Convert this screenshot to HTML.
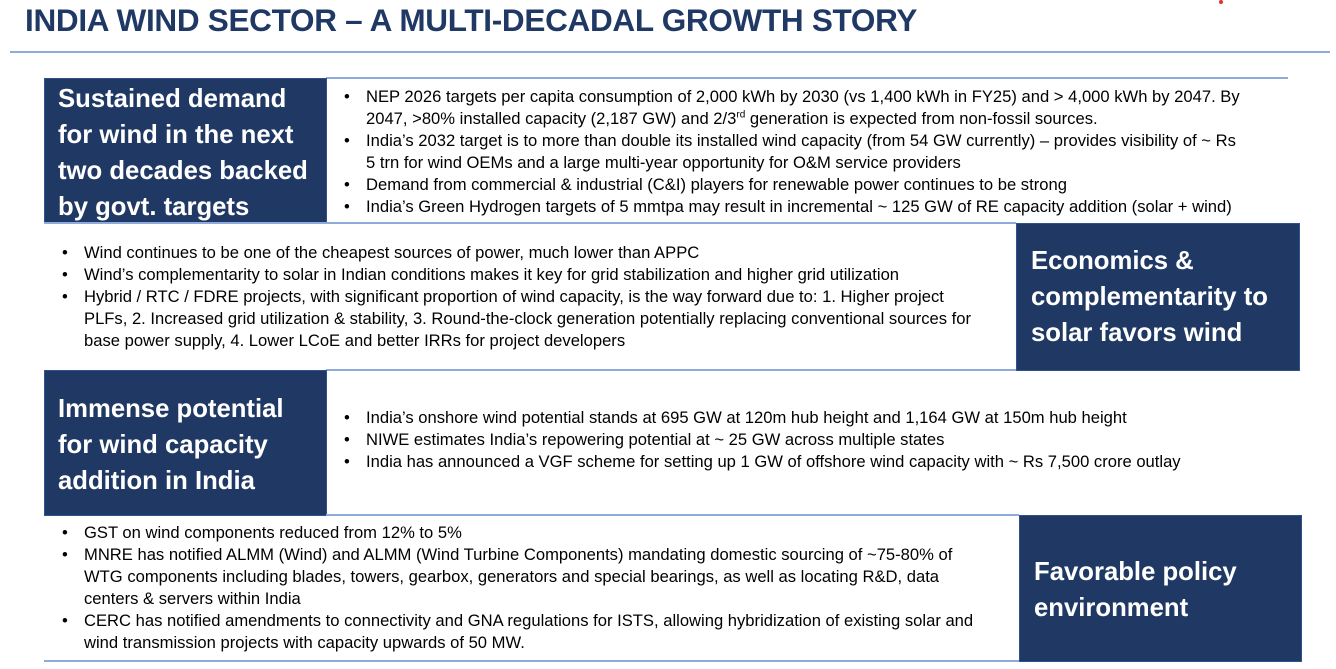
<!DOCTYPE html>
<html><head><meta charset="utf-8">
<style>
body{margin:0;width:1336px;height:669px;background:#fff;position:relative;overflow:hidden;font-family:"Liberation Sans",sans-serif;}
.abs{position:absolute;}
.title{left:25px;top:2px;font-size:31.5px;font-weight:bold;color:#1f3864;white-space:nowrap;letter-spacing:-0.3px;}
.hr{position:absolute;height:2px;background:#8faadc;}
.box{position:absolute;background:#1f3864;border:1px solid #2f528f;color:#fff;font-weight:bold;font-size:25.7px;line-height:36px;box-sizing:border-box;}
.box div{white-space:nowrap;}
.list{position:absolute;font-size:16.6px;line-height:22px;color:#000;white-space:nowrap;}
.li{position:relative;padding-left:22px;}
.li:before{content:"•";position:absolute;left:0;}
</style></head><body>
<div class="title abs">INDIA WIND SECTOR – A MULTI-DECADAL GROWTH STORY</div>
<div class="hr" style="left:10px;top:51px;width:1320px"></div>
<div class="abs" style="left:1219px;top:0;width:4px;height:4px;background:#e03030;border-radius:2px"></div>

<div class="hr" style="left:326px;top:77px;width:962px"></div>
<div class="box" style="left:44px;top:78px;width:283px;height:146px;padding:2px 0 0 13px"><div>Sustained demand</div><div>for wind in the next</div><div>two decades backed</div><div>by govt. targets</div></div>
<div class="list" style="left:344px;top:86px">
<div class="li">NEP 2026 targets per capita consumption of 2,000 kWh by 2030 (vs 1,400 kWh in FY25) and &gt; 4,000 kWh by 2047. By<br>2047, &gt;80% installed capacity (2,187 GW) and 2/3<sup style="font-size:10px;line-height:0">rd</sup> generation is expected from non-fossil sources.</div>
<div class="li">India’s 2032 target is to more than double its installed wind capacity (from 54 GW currently) – provides visibility of ~ Rs<br>5 trn for wind OEMs and a large multi-year opportunity for O&amp;M service providers</div>
<div class="li">Demand from commercial &amp; industrial (C&amp;I) players for renewable power continues to be strong</div>
<div class="li">India’s Green Hydrogen targets of 5 mmtpa may result in incremental ~ 125 GW of RE capacity addition (solar + wind)</div>
</div>
<div class="hr" style="left:44px;top:222px;width:972px"></div>

<div class="list" style="left:62px;top:242px">
<div class="li">Wind continues to be one of the cheapest sources of power, much lower than APPC</div>
<div class="li">Wind’s complementarity to solar in Indian conditions makes it key for grid stabilization and higher grid utilization</div>
<div class="li">Hybrid / RTC / FDRE projects, with significant proportion of wind capacity, is the way forward due to: 1. Higher project<br>PLFs, 2. Increased grid utilization &amp; stability, 3. Round-the-clock generation potentially replacing conventional sources for<br>base power supply, 4. Lower LCoE and better IRRs for project developers</div>
</div>
<div class="box" style="left:1016px;top:223px;width:284px;height:148px;padding:19px 0 0 14px"><div>Economics &amp;</div><div>complementarity to</div><div>solar favors wind</div></div>
<div class="hr" style="left:326px;top:369px;width:690px"></div>

<div class="box" style="left:44px;top:370px;width:283px;height:146px;padding:20px 0 0 13px"><div>Immense potential</div><div>for wind capacity</div><div>addition in India</div></div>
<div class="list" style="left:344px;top:407px">
<div class="li">India’s onshore wind potential stands at 695 GW at 120m hub height and 1,164 GW at 150m hub height</div>
<div class="li">NIWE estimates India’s repowering potential at ~ 25 GW across multiple states</div>
<div class="li">India has announced a VGF scheme for setting up 1 GW of offshore wind capacity with ~ Rs 7,500 crore outlay</div>
</div>
<div class="hr" style="left:326px;top:514px;width:693px"></div>

<div class="list" style="left:62px;top:522px">
<div class="li">GST on wind components reduced from 12% to 5%</div>
<div class="li">MNRE has notified ALMM (Wind) and ALMM (Wind Turbine Components) mandating domestic sourcing of ~75-80% of<br>WTG components including blades, towers, gearbox, generators and special bearings, as well as locating R&amp;D, data<br>centers &amp; servers within India</div>
<div class="li">CERC has notified amendments to connectivity and GNA regulations for ISTS, allowing hybridization of existing solar and<br>wind transmission projects with capacity upwards of 50 MW.</div>
</div>
<div class="box" style="left:1019px;top:515px;width:283px;height:147px;padding:38px 0 0 14px"><div>Favorable policy</div><div>environment</div></div>
<div class="hr" style="left:44px;top:660px;width:975px"></div>
</body></html>
